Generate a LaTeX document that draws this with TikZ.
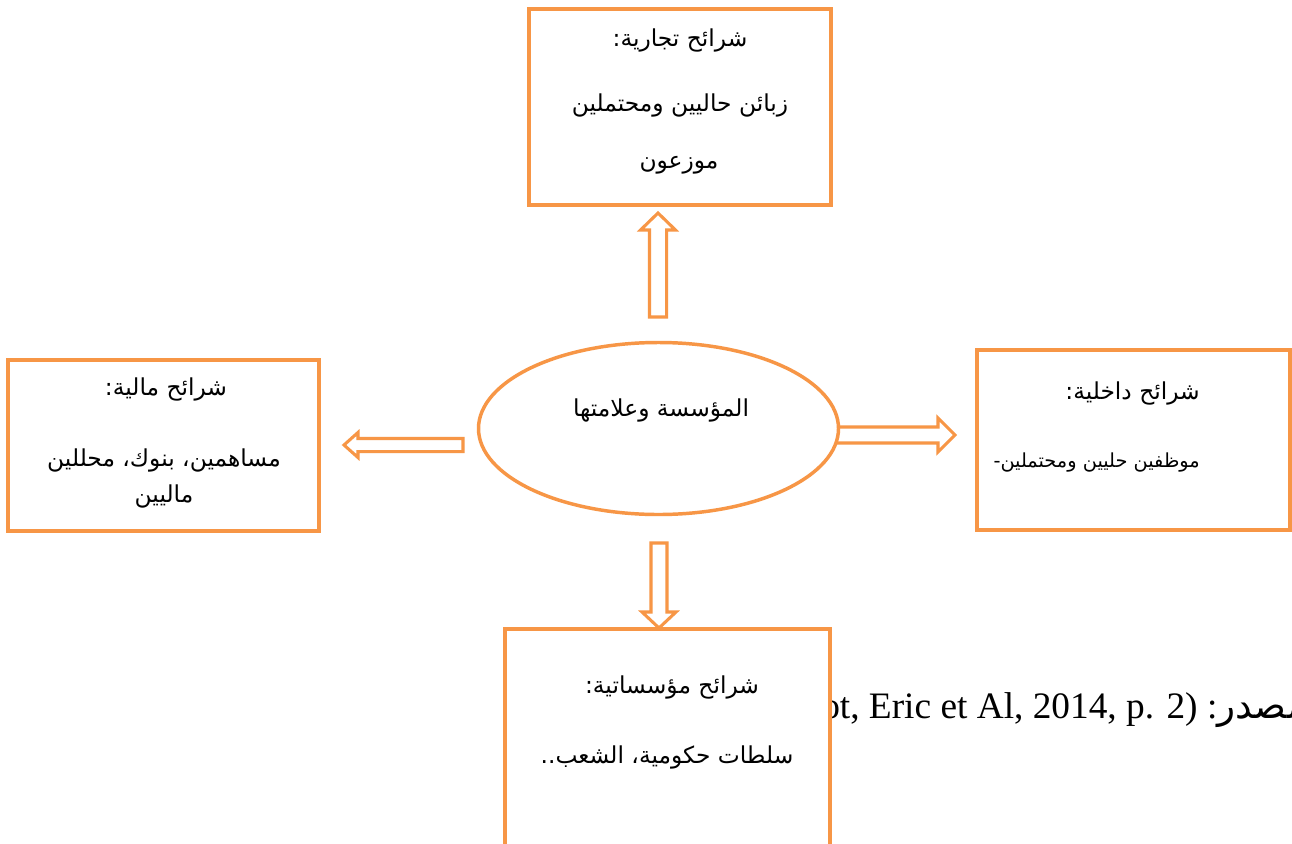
\documentclass[tikz,border=0pt]{standalone}
\usepackage{fontspec}
\usetikzlibrary{calc,shapes.geometric}
\TeXXeTstate=1
\newfontfamily\arabicfont[Script=Arabic]{DejaVu Sans}
\newfontfamily\latinserif{Liberation Serif}
\definecolor{acc}{HTML}{F79646}
\newcommand\barrow[5]{% tail, tip, half shaft, half head, head length
  \coordinate (barrowbase) at ($(#2)!#5!(#1)$);
  \draw[barrowst] ($(#1)!#3!90:(#2)$) -- ($(barrowbase)!#3!90:(#2)$)
     -- ($(barrowbase)!#4!90:(#2)$) -- (#2) -- ($(barrowbase)!#4!-90:(#2)$)
     -- ($(barrowbase)!#3!-90:(#2)$) -- ($(#1)!#3!-90:(#2)$) -- cycle;}
\begin{document}
\begin{tikzpicture}[x=0.75pt,y=-0.75pt,
  box/.style={draw=acc, line width=3.4pt, fill=white, rectangle, inner sep=0pt},
  ar/.style={font=\arabicfont\fontsize{17.5}{20}\selectfont, inner sep=0pt},
  arsmall/.style={font=\arabicfont\fontsize{14.5}{17}\selectfont, inner sep=0pt},
  barrowst/.style={draw=acc, line width=2.3pt, fill=white, line join=miter}]
\clip (0,0) rectangle (1292,843);
\fill[white] (0,0) rectangle (1292,843);

% source line (partly hidden behind the bottom box)
\node[font=\latinserif\fontsize{28}{30}\selectfont, anchor=base west, inner sep=0pt] (src) at (821,718)
  {ot, Eric et Al, 2014, p. 2) :{\arabicfont\beginR المصدر\endR}};

% arrow end points
\coordinate (upTail) at (658,317);  \coordinate (upTip) at (658,213);
\coordinate (lfTail) at (463,445);  \coordinate (lfTip) at (344,445);
\coordinate (rtTail) at (830,435);  \coordinate (rtTip) at (955,435);
\coordinate (dnTail) at (659,543);  \coordinate (dnTip) at (659,628);

\barrow{upTail}{upTip}{6.4pt}{13.1pt}{12.75pt}
\barrow{lfTail}{lfTip}{4.9pt}{9.4pt}{10.5pt}
\barrow{rtTail}{rtTip}{6pt}{12.75pt}{12.75pt}
\barrow{dnTail}{dnTip}{6pt}{12.75pt}{12pt}

% boxes
\node[box, minimum width=226.5pt, minimum height=147pt] (top) at (680,107) {};
\node[box, minimum width=233.25pt, minimum height=128.25pt] (left) at (163.5,445.5) {};
\node[box, minimum width=234.75pt, minimum height=135pt] (right) at (1133.5,440) {};
\node[box, minimum width=243.75pt, minimum height=180.75pt] (bottom) at (667.5,749.5) {};
\node[draw=acc, line width=2.6pt, fill=white, ellipse, inner sep=0pt,
      minimum width=270pt, minimum height=129pt] (ell) at (658.5,428.5) {};

% texts
\node[ar] (e1) at (661,410) {\beginR المؤسسة وعلامتها\endR};

\node[ar] (t1) at (680,40)  {\beginR شرائح تجارية:\endR};
\node[ar] (t2) at (680,105) {\beginR زبائن حاليين ومحتملين\endR};
\node[ar] (t3) at (679,165) {\beginR موزعون\endR};

\node[ar] (l1) at (166,389) {\beginR شرائح مالية:\endR};
\node[ar] (l2) at (164,460) {\beginR مساهمين، بنوك، محللين\endR};
\node[ar] (l3) at (164,496) {\beginR ماليين\endR};

\node[ar, anchor=east] (r1) at (1200,393) {\beginR شرائح داخلية:\endR};
\node[arsmall, anchor=east] (r2) at (1200,463) {\beginR موظفين حليين ومحتملين-\endR};

\node[ar] (b1) at (672,687) {\beginR شرائح مؤسساتية:\endR};
\node[ar] (b2) at (667,757) {\beginR سلطات حكومية، الشعب..\endR};
\end{tikzpicture}
\end{document}
